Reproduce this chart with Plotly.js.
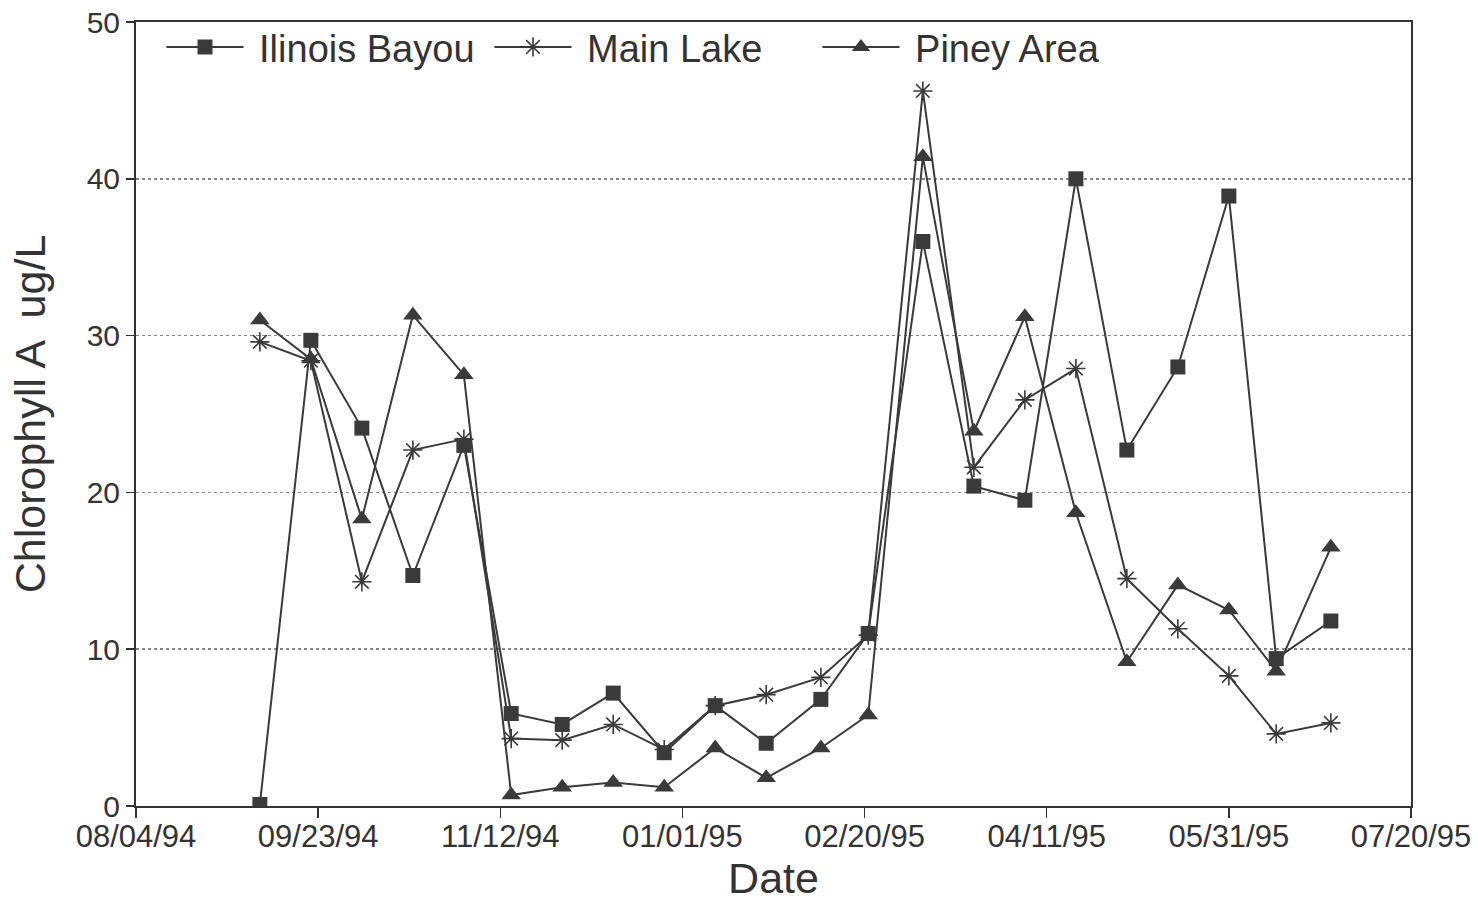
<!DOCTYPE html>
<html>
<head>
<meta charset="utf-8">
<script src="https://cdn.plot.ly/plotly-3.0.1.min.js"></script>
<style>html,body{margin:0;padding:0;background:#fff;}#chart{width:1478px;height:903px;}</style>
</head>
<body>
<div id="chart"></div>
<script>
const dates = ["1994-09-07","1994-09-21","1994-10-05","1994-10-19","1994-11-02","1994-11-15","1994-11-29","1994-12-13","1994-12-27","1995-01-10","1995-01-24","1995-02-08","1995-02-21","1995-03-08","1995-03-22","1995-04-05","1995-04-19","1995-05-03","1995-05-17","1995-05-31","1995-06-13","1995-06-28"];
const illinoisBayou = [0.1,29.7,24.1,14.7,23.0,5.9,5.2,7.2,3.4,6.4,4.0,6.8,11.0,36.0,20.4,19.5,40.0,22.7,28.0,38.9,9.4,11.8];
const mainLake = [29.6,28.4,14.3,22.7,23.4,4.3,4.2,5.2,3.6,6.4,7.1,8.2,10.9,45.6,21.6,25.9,27.9,14.5,11.3,8.3,4.6,5.3];
const pineyArea = [31.0,28.5,18.3,31.3,27.5,0.7,1.2,1.5,1.2,3.7,1.8,3.7,5.8,41.4,23.9,31.2,18.7,9.2,14.1,12.5,8.6,16.5];
const seriesNames = ["Ilinois Bayou","Main Lake","Piney Area"];
const xTickVals = ["1994-08-04","1994-09-23","1994-11-12","1995-01-01","1995-02-20","1995-04-11","1995-05-31","1995-07-20"];
const xTickText = ["08/04/94","09/23/94","11/12/94","01/01/95","02/20/95","04/11/95","05/31/95","07/20/95"];

const ink = '#3a3a3a';
const gap = '\u00a0';
const lineStyle = {color: ink, width: 2};
const traces = [
  {x: dates, y: illinoisBayou, name: gap + seriesNames[0], mode: 'lines+markers', line: lineStyle,
   marker: {symbol: 'square', size: 15, color: ink}},
  {x: dates, y: mainLake, name: gap + seriesNames[1], mode: 'lines+markers', line: lineStyle,
   marker: {symbol: 'asterisk-open', size: 16, color: ink, line: {color: ink, width: 1.6}}},
  {x: dates, y: pineyArea, name: gap + seriesNames[2], mode: 'lines+markers', line: lineStyle,
   marker: {symbol: 'triangle-up', size: 17, color: ink}}
];

const layout = {
  width: 1478, height: 903,
  margin: {l: 136, r: 67, t: 22, b: 97, autoexpand: false},
  paper_bgcolor: '#fff', plot_bgcolor: '#fff',
  font: {family: '"Liberation Sans", Arial, sans-serif', color: '#333'},
  showlegend: true,
  legend: {orientation: 'h', x: 0.02, y: 1.008, xanchor: 'left', yanchor: 'top',
           bgcolor: 'rgba(0,0,0,0)', font: {size: 38, color: '#333'},
           itemwidth: 77, entrywidth: 236, tracegroupgap: 0},
  xaxis: {
    type: 'date', range: ['1994-08-04', '1995-07-20'],
    tickmode: 'array', tickvals: xTickVals, ticktext: xTickText,
    ticks: 'outside', ticklen: 10, tickwidth: 1.5, tickcolor: '#333',
    ticklabelstandoff: -8,
    tickfont: {size: 31, color: '#333'},
    showline: true, linecolor: '#333', linewidth: 2, mirror: true,
    showgrid: false, zeroline: false,
    title: {text: 'Date', font: {size: 43, color: '#333'}, standoff: 8}
  },
  yaxis: {
    range: [0, 50], tickvals: [0,10,20,30,40,50],
    ticks: 'outside', ticklen: 8, tickwidth: 1.5, tickcolor: '#333',
    tickfont: {size: 30, color: '#333'},
    showline: true, linecolor: '#333', linewidth: 2, mirror: true,
    showgrid: true, gridcolor: '#888', griddash: 'dot', gridwidth: 1.5,
    zeroline: false,
    title: {text: 'Chlorophyll A  ug/L', font: {size: 43, color: '#333'}, standoff: 28}
  }
};

Plotly.newPlot('chart', traces, layout, {displayModeBar: false, staticPlot: true});
</script>
</body>
</html>
